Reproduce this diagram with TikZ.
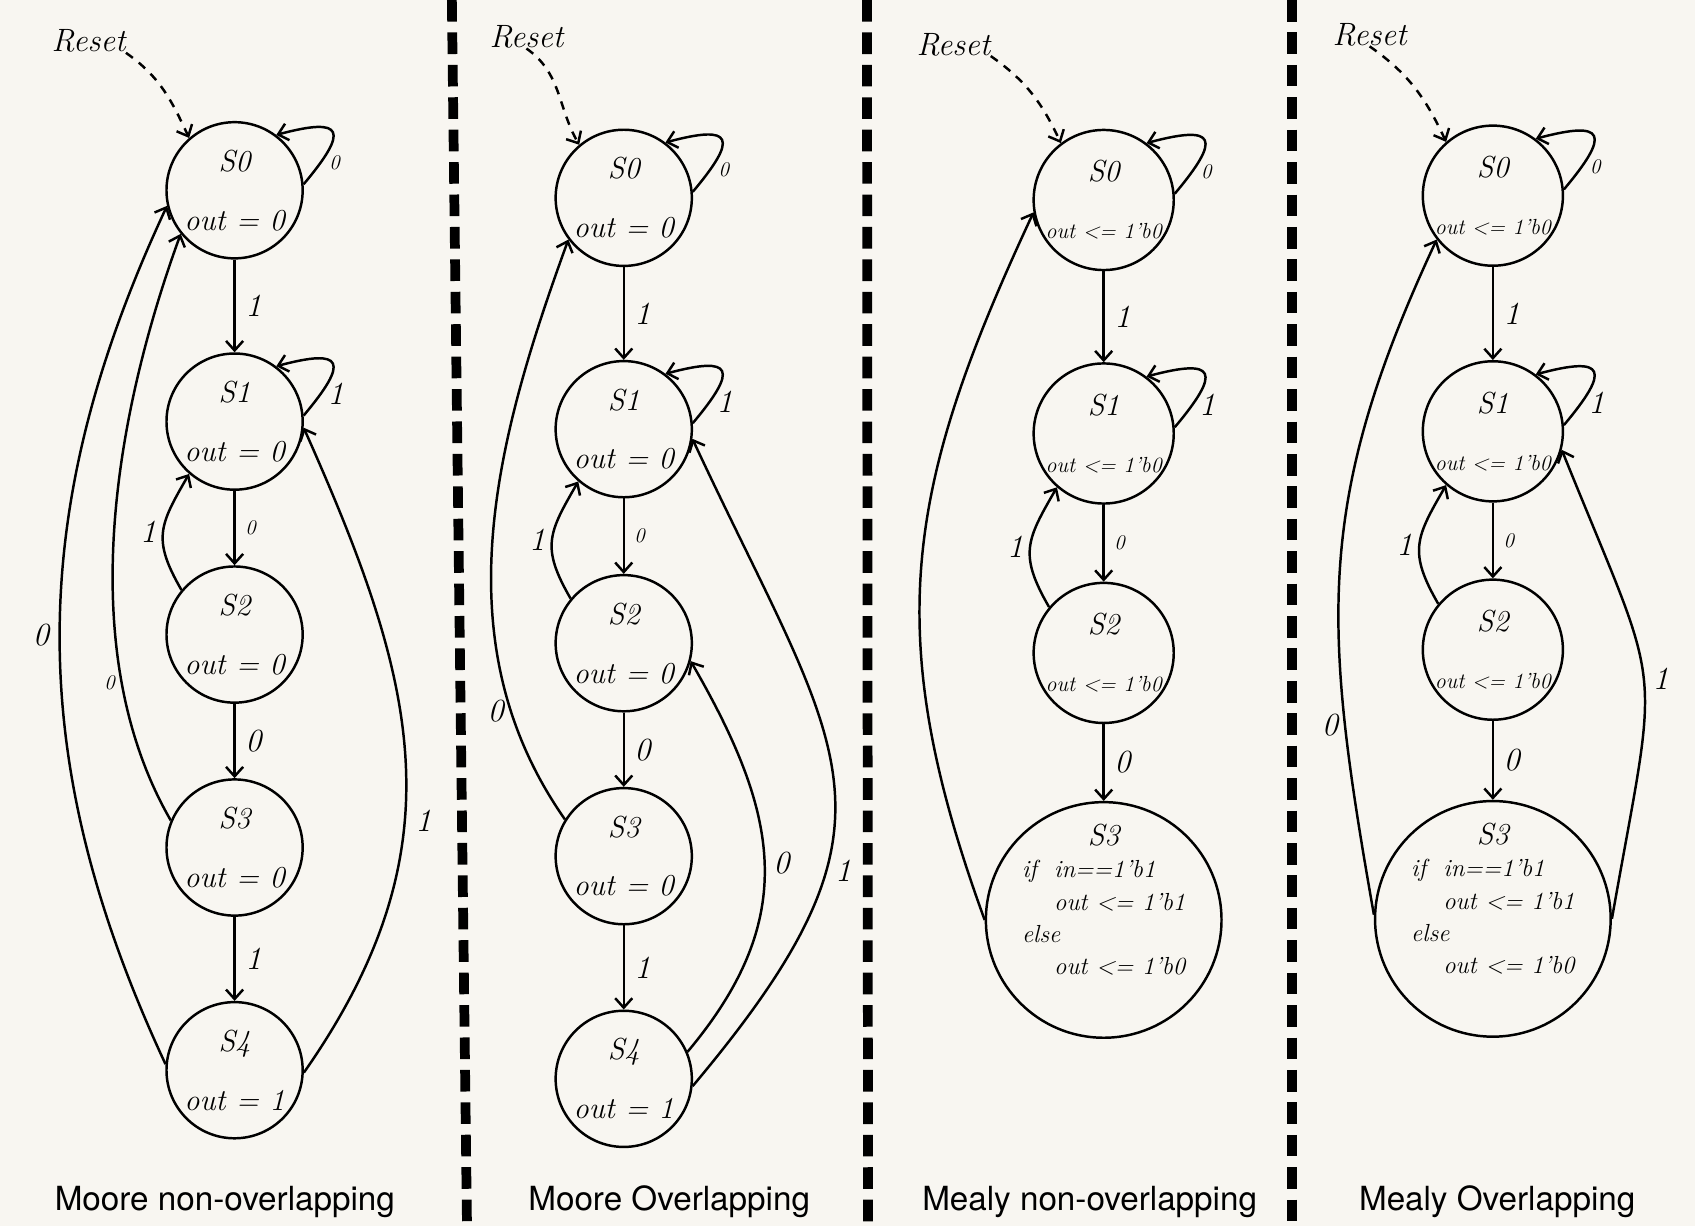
\documentclass[tikz,border=0pt]{standalone}
\usepackage{fontspec}
\newfontfamily\titlefont{TeX Gyre Heros}
\usetikzlibrary{arrows.meta,positioning}

\definecolor{paper}{RGB}{248,246,241}
\newcommand\hand{\itshape}
\newcommand\mealyout[1]{{\fontsize{11.5}{14}\selectfont #1}}

\tikzset{
  state/.style={draw, circle, minimum size=2.52cm, inner sep=0pt, line width=1.3pt,
    align=center, font=\hand\fontsize{16}{18}\selectfont},
  bigstate/.style={state, minimum size=4.36cm, font=\hand\fontsize{13}{17}\selectfont},
  trans/.style={-{Straight Barb[length=5pt,width=9pt]}, line width=1.3pt},
  resetarrow/.style={trans, dash pattern=on 4.5pt off 4pt},
  lbl/.style={font=\hand\fontsize{17}{19}\selectfont, inner sep=1pt},
  smalllbl/.style={font=\hand\fontsize{11}{13}\selectfont, inner sep=1pt},
  resettxt/.style={font=\hand\fontsize{17}{20}\selectfont, inner sep=0pt},
  caption/.style={font=\titlefont\fontsize{17.5}{21}\selectfont},
  divider/.style={line width=0.18cm, dash pattern=on 0.4cm off 0.2cm},
}

\begin{document}
\begin{tikzpicture}[x=0.02cm, y=0.02cm]
    \fill[paper] (0,0) rectangle (1568,-1134);
    \useasboundingbox (0,0) rectangle (1568,-1134);

    % dividers
    \draw[divider] (418,0) -- (432,-1134);
    \draw[divider] (802,0) -- (803,-1134);
    \draw[divider] (1195,0) -- (1195,-1134);

    % Moore non-overlapping
    \node[resettxt] (resetA) at (82,-38) {Reset};
    \node[state] (a0) at (217,-176) {S0\\[13pt]out = 0};
    \node[state] (a1) at (217,-390) {S1\\[13pt]out = 0};
    \node[state] (a2) at (217,-587) {S2\\[13pt]out = 0};
    \node[state] (a3) at (217,-784) {S3\\[13pt]out = 0};
    \node[state] (a4) at (217,-990) {S4\\[13pt]out = 1};
    \draw[resetarrow] (resetA.south east) to[out=-35, in=115] (a0.131);
    \draw[trans] (a0.5) to[out=50, in=15, looseness=3.2] node[smalllbl, pos=0.15, right=3pt] {0} (a0.53);
    \draw[trans] (a0) -- node[lbl, right=4pt] {1} (a1);
    \draw[trans] (a1.5) to[out=50, in=15, looseness=3.2] node[lbl, pos=0.15, right=2pt] {1} (a1.53);
    \draw[trans] (a1) -- node[smalllbl, right=4pt] {0} (a2);
    \draw[trans] (a2.140) to[out=120, in=240, looseness=1.3] node[lbl, left=2pt] {1} (a1.229);
    \draw[trans] (a2) -- node[lbl, right=4pt] {0} (a3);
    \draw[trans] (a3) -- node[lbl, right=4pt] {1} (a4);
    \draw[trans] (a3.157) to[out=120, in=250, looseness=0.85] node[smalllbl, pos=0.25, left=2pt] {0} (a0.219);
    \draw[trans] (a4.175) to[out=115, in=245] node[lbl, left=4pt] {0} (a0.193);
    \draw[trans] (a4.358) to[out=55, in=294, looseness=1.1] node[lbl, pos=0.4, right=4pt] {1} (a1.355);
    \node[caption] (capA) at (208,-1112) {Moore non-overlapping};

    % Moore overlapping
    \node[resettxt] (resetB) at (487,-34) {Reset};
    \node[state] (b0) at (577,-183) {S0\\[13pt]out = 0};
    \node[state] (b1) at (577,-397) {S1\\[13pt]out = 0};
    \node[state] (b2) at (577,-595) {S2\\[13pt]out = 0};
    \node[state] (b3) at (577,-792) {S3\\[13pt]out = 0};
    \node[state] (b4) at (577,-998) {S4\\[13pt]out = 1};
    \draw[resetarrow] (resetB.south) to[out=-35, in=120] (b0.130);
    \draw[trans] (b0.5) to[out=50, in=15, looseness=3.2] node[smalllbl, pos=0.15, right=3pt] {0} (b0.53);
    \draw[trans] (b0) -- node[lbl, right=4pt] {1} (b1);
    \draw[trans] (b1.5) to[out=50, in=15, looseness=3.2] node[lbl, pos=0.15, right=2pt] {1} (b1.53);
    \draw[trans] (b1) -- node[smalllbl, right=4pt] {0} (b2);
    \draw[trans] (b2.140) to[out=120, in=240, looseness=1.3] node[lbl, left=2pt] {1} (b1.229);
    \draw[trans] (b2) -- node[lbl, right=4pt] {0} (b3);
    \draw[trans] (b3) -- node[lbl, right=4pt] {1} (b4);
    \draw[trans] (b3.148) to[out=125, in=250, looseness=0.95] node[lbl, pos=0.2, left=2pt] {0} (b0.217);
    \draw[trans] (b4.23) to[out=50, in=300, looseness=1.15] node[lbl, right=3pt] {0} (b2.345);
    \draw[trans] (b4.354) to[out=50, in=295, looseness=1.4] node[lbl, pos=0.33, right=3pt] {1} (b1.352);
    \node[caption] (capB) at (619,-1112) {Moore Overlapping};

    % Mealy non-overlapping
    \node[resettxt] (resetC) at (882,-41) {Reset};
    \node[state] (c0) at (1021,-185) {S0\\[12pt]\mealyout{out <= 1'b0}};
    \node[state] (c1) at (1021,-401) {S1\\[12pt]\mealyout{out <= 1'b0}};
    \node[state] (c2) at (1021,-604) {S2\\[12pt]\mealyout{out <= 1'b0}};
    \node[bigstate, label={[font=\hand\fontsize{16}{18}\selectfont, anchor=north, yshift=-0.3cm]north:S3}] (c3) at (1021,-851)
        {\begin{tabular}{@{}l@{}}if\ \ in==1'b1\\ \hspace{1.3em}out <= 1'b1\\ else\\ \hspace{1.3em}out <= 1'b0\end{tabular}};
    \draw[resetarrow] (resetC.south east) to[out=-35, in=115] (c0.127);
    \draw[trans] (c0.5) to[out=50, in=15, looseness=3.2] node[smalllbl, pos=0.15, right=3pt] {0} (c0.53);
    \draw[trans] (c0) -- node[lbl, right=4pt] {1} (c1);
    \draw[trans] (c1.5) to[out=50, in=15, looseness=3.2] node[lbl, pos=0.15, right=2pt] {1} (c1.53);
    \draw[trans] (c1) -- node[smalllbl, right=4pt] {0} (c2);
    \draw[trans] (c2.140) to[out=120, in=240, looseness=1.3] node[lbl, left=2pt] {1} (c1.229);
    \draw[trans] (c2) -- node[lbl, right=4pt] {0} (c3);
    \draw[trans] (c3.180) to[out=110, in=245, looseness=1.1] (c0.190);
    \node[caption] (capC) at (1008,-1112) {Mealy non-overlapping};

    % Mealy overlapping
    \node[resettxt] (resetD) at (1267,-32) {Reset};
    \node[state] (d0) at (1381,-181) {S0\\[12pt]\mealyout{out <= 1'b0}};
    \node[state] (d1) at (1381,-399) {S1\\[12pt]\mealyout{out <= 1'b0}};
    \node[state] (d2) at (1381,-601) {S2\\[12pt]\mealyout{out <= 1'b0}};
    \node[bigstate, label={[font=\hand\fontsize{16}{18}\selectfont, anchor=north, yshift=-0.3cm]north:S3}] (d3) at (1381,-850)
        {\begin{tabular}{@{}l@{}}if\ \ in==1'b1\\ \hspace{1.3em}out <= 1'b1\\ else\\ \hspace{1.3em}out <= 1'b0\end{tabular}};
    \draw[resetarrow] (resetD.south) to[out=-35, in=115] (d0.131);
    \draw[trans] (d0.5) to[out=50, in=15, looseness=3.2] node[smalllbl, pos=0.15, right=3pt] {0} (d0.53);
    \draw[trans] (d0) -- node[lbl, right=4pt] {1} (d1);
    \draw[trans] (d1.5) to[out=50, in=15, looseness=3.2] node[lbl, pos=0.15, right=2pt] {1} (d1.53);
    \draw[trans] (d1) -- node[smalllbl, right=4pt] {0} (d2);
    \draw[trans] (d2.140) to[out=120, in=240, looseness=1.3] node[lbl, left=2pt] {1} (d1.229);
    \draw[trans] (d2) -- node[lbl, right=4pt] {0} (d3);
    \draw[trans] (d3.178) to[out=100, in=245, looseness=1.1] node[lbl, pos=0.25, left=2pt] {0} (d0.218);
    \draw[trans] (d3.0) to[out=80, in=292, looseness=1.5] node[lbl, right=3pt] {1} (d1.345);
    \node[caption] (capD) at (1385,-1112) {Mealy Overlapping};
\end{tikzpicture}
\end{document}
